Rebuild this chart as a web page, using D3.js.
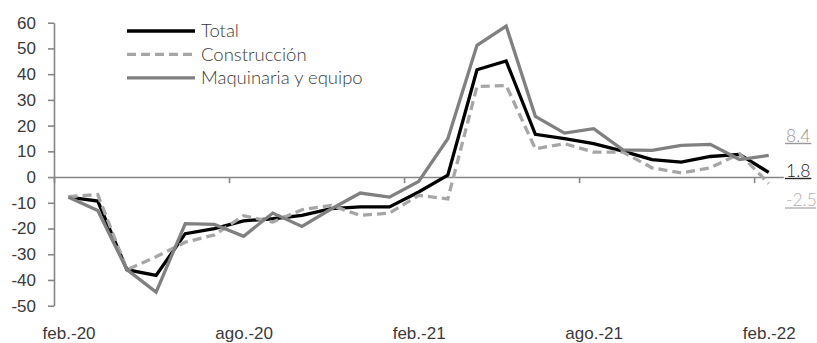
<!DOCTYPE html>
<html>
<head>
<meta charset="utf-8">
<script src="https://cdn.jsdelivr.net/npm/d3@7"></script>
<style>
  html, body { margin: 0; padding: 0; background: #fff; }
  svg { display: block; font-family: "Lato", "Roboto", "Liberation Sans", sans-serif; font-weight: 300; }
</style>
</head>
<body>
<svg id="chart" width="817" height="343"></svg>
<script>
// Monthly categories, feb. 2020 – feb. 2022
const months = [
  "feb.-20", "mar.-20", "abr.-20", "may.-20", "jun.-20", "jul.-20",
  "ago.-20", "sep.-20", "oct.-20", "nov.-20", "dic.-20", "ene.-21",
  "feb.-21", "mar.-21", "abr.-21", "may.-21", "jun.-21", "jul.-21",
  "ago.-21", "sep.-21", "oct.-21", "nov.-21", "dic.-21", "ene.-22",
  "feb.-22"
];

// Annual variation (%) by series
const total = [-7.8, -9.3, -36.0, -38.2, -22.0, -20.0, -17.0, -16.2, -14.9, -12.3, -11.6, -11.6,
  -5.8, 0.7, 41.7, 45.1, 16.6, 14.9, 13.0, 10.1, 6.8, 5.8, 8.0, 8.8, 1.8];
const construccion = [-7.6, -6.8, -36.0, -31.0, -25.3, -22.5, -15.0, -17.5, -12.7, -11.0, -14.9, -14.0,
  -7.1, -8.5, 35.2, 35.6, 11.0, 13.0, 9.7, 9.7, 3.6, 1.6, 3.6, 9.1, -2.5];
const maquinaria = [-7.8, -13.0, -36.0, -44.7, -18.1, -18.4, -23.0, -14.0, -19.2, -12.4, -6.2, -7.8,
  -1.7, 14.9, 51.2, 58.7, 23.6, 17.1, 18.8, 10.6, 10.4, 12.3, 12.7, 6.8, 8.4];

const yTicks = [-50, -40, -30, -20, -10, 0, 10, 20, 30, 40, 50, 60];
const xLabelIdx = [0, 6, 12, 18, 24];
const xTickIdx = [-0.5, 5.5, 11.5, 17.5, 23.5];

const seriesNames = ["Total", "Construcción", "Maquinaria y equipo"];

const series = [
  { name: seriesNames[0], values: total, color: "#000000", dash: null, labelColor: "#262626" },
  { name: seriesNames[1], values: construccion, color: "#a6a6a6", dash: "9,5", labelColor: "#b0b0b0" },
  { name: seriesNames[2], values: maquinaria, color: "#808080", dash: null, labelColor: "#999999" }
];

const svg = d3.select("#chart");
const axisColor = "#868686";
const textColor = "#3a3a3a";
// plain hyphen for negatives, as in the printed labels
const num = v => (v < 0 ? "-" : "") + Math.abs(v);

const x = d3.scaleLinear().domain([-0.5, months.length - 0.5]).range([54, 783.3]);
const y = d3.scaleLinear().domain([-50, 60]).range([305.7, 22.7]);

// Y axis
const yAxis = svg.append("g")
  .attr("transform", `translate(${x(-0.5)},0)`)
  .call(d3.axisLeft(y).tickValues(yTicks).tickSize(6).tickSizeOuter(0).tickPadding(12)
    .tickFormat(num));
yAxis.select(".domain").attr("stroke", axisColor).attr("stroke-width", 1.6);
yAxis.selectAll(".tick line").attr("stroke", axisColor).attr("stroke-width", 1.6);
yAxis.selectAll(".tick text")
  .attr("fill", textColor).style("font-size", "17px").style("font-family", "inherit");

// X axis line at zero with tick marks between categories
const xAxis = svg.append("g")
  .attr("transform", `translate(0,${y(0)})`)
  .call(d3.axisBottom(x).tickValues(xTickIdx).tickSize(6).tickSizeOuter(0).tickFormat(""));
xAxis.select(".domain").attr("stroke", axisColor).attr("stroke-width", 1.6);
xAxis.selectAll(".tick line").attr("stroke", axisColor).attr("stroke-width", 1.6);

// Category labels along the bottom
const xLab = svg.append("g")
  .attr("transform", "translate(0,327)")
  .call(d3.axisBottom(x).tickValues(xLabelIdx).tickSize(0).tickPadding(0)
    .tickFormat(i => months[i]));
xLab.select(".domain").remove();
xLab.selectAll(".tick text")
  .attr("fill", textColor).style("font-size", "17px").style("font-family", "inherit");

// Lines
const line = d3.line().x((d, i) => x(i)).y(d => y(d));
series.forEach(s => {
  svg.append("path")
    .datum(s.values)
    .attr("fill", "none")
    .attr("stroke", s.color)
    .attr("stroke-width", 3.3)
    .attr("stroke-linejoin", "miter")
    .attr("stroke-dasharray", s.dash)
    .attr("d", line);
});

// Legend
const legend = svg.append("g");
series.forEach((s, k) => {
  const ly = 31 + k * 23.4;
  legend.append("line")
    .attr("x1", 127).attr("x2", 195).attr("y1", ly).attr("y2", ly)
    .attr("stroke", s.color).attr("stroke-width", 3.3)
    .attr("stroke-dasharray", s.dash);
  legend.append("text")
    .attr("x", 201).attr("y", ly).attr("dy", "0.35em")
    .attr("fill", textColor).style("font-size", "18.5px")
    .text(s.name);
});

// End-value labels, underlined
const endLabels = [
  { s: series[2], baseline: 141.5 },
  { s: series[0], baseline: 176.5 },
  { s: series[1], baseline: 206 }
];
endLabels.forEach(e => {
  const v = e.s.values[e.s.values.length - 1];
  const t = svg.append("text")
    .attr("x", 786).attr("y", e.baseline)
    .attr("fill", e.s.labelColor).style("font-size", "17.5px")
    .text(num(v.toFixed(1)));
  const w = t.node().getComputedTextLength();
  svg.append("line")
    .attr("x1", 785).attr("x2", Math.min(787 + w, 816))
    .attr("y1", e.baseline + 2).attr("y2", e.baseline + 2)
    .attr("stroke", e.s.labelColor).attr("stroke-width", 1.4);
});
</script>
</body>
</html>
